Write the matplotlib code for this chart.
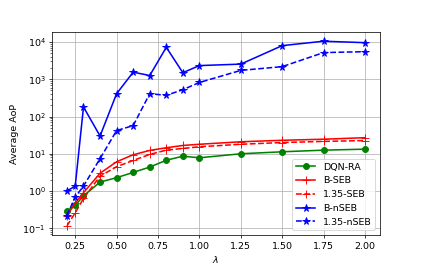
import matplotlib
matplotlib.use("Agg")
import matplotlib.pyplot as plt

plt.rcParams["font.size"] = 10.3
plt.rcParams["lines.linewidth"] = 1.7

lam = [0.2, 0.25, 0.3, 0.4, 0.5, 0.6, 0.7, 0.8, 0.9, 1.0, 1.25, 1.5, 1.75, 2.0]

dqn_ra = [0.29, 0.41, 0.74, 1.74, 2.28, 3.16, 4.4, 6.7, 8.6, 7.8, 10.0, 11.3, 12.5, 13.3]
b_seb = [0.22, 0.47, 0.9, 3.0, 6.1, 9.4, 12.3, 14.5, 16.7, 18.0, 21.0, 23.0, 24.6, 27.0]
seb_135 = [0.116, 0.26, 0.63, 2.5, 4.5, 6.6, 9.6, 12.5, 13.9, 15.4, 18.0, 20.0, 21.5, 22.6]
b_nseb = [1.0, 1.36, 180, 30, 410, 1550, 1260, 7200, 1500, 2330, 2550, 8000, 10500, 9600]
nseb_135 = [0.22, 0.69, 1.36, 7.4, 42, 57, 410, 370, 525, 820, 1730, 2180, 5200, 5500]

fig = plt.figure(figsize=(6.4, 4.07), dpi=66.1)
ax = fig.add_axes([0.123, 0.126, 0.775, 0.755])

ax.plot(lam, dqn_ra, color="green", marker="o", markersize=6.5, label="DQN-RA")
ax.plot(lam, b_seb, color="red", marker="+", markersize=9, label="B-SEB")
ax.plot(lam, seb_135, color="red", linestyle="--", marker="+", markersize=9, label="1.35-SEB")
ax.plot(lam, b_nseb, color="blue", marker="*", markersize=8.5, label="B-nSEB")
ax.plot(lam, nseb_135, color="blue", linestyle="--", marker="*", markersize=8.5, label="1.35-nSEB")

ax.set_yscale("log")
ax.grid(True)
ax.set_xlabel(r"$\lambda$")
ax.set_ylabel("Average AoP")
ax.legend(loc="lower right")

fig.savefig("out.png", dpi=66.1)
